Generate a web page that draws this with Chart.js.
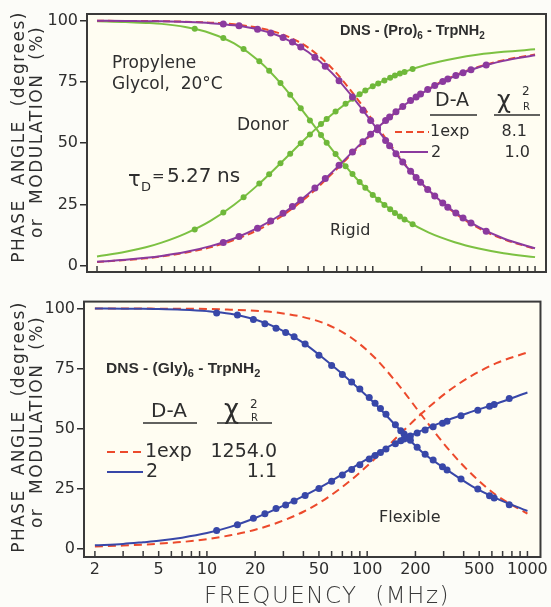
<!DOCTYPE html>
<html>
<head>
<meta charset="utf-8">
<script src="https://cdn.jsdelivr.net/npm/chart.js@4.4.1/dist/chart.umd.min.js"></script>
<style>
  html, body { margin: 0; padding: 0; background: #fcfcf8; }
  #wrap { position: relative; width: 551px; height: 607px; }
  canvas { position: absolute; left: 0; }
  #top { top: 0; }
  #bottom { top: 290px; }
</style>
</head>
<body>
<div id="wrap">
  <canvas id="top" width="551" height="290"></canvas>
  <canvas id="bottom" width="551" height="317"></canvas>
</div>
<script>
// ---- values ----
// axis ticks
const xTickMarks = [2, 3, 4, 5, 6, 7, 8, 9, 10, 20, 30, 40, 50, 60, 70, 80, 90,
  100, 200, 300, 400, 500, 600, 700, 800, 900, 1000];
const xTickLabels = [2, 5, 10, 20, 50, 100, 200, 500, 1000];
const yTickValues = [0, 25, 50, 75, 100];

// frequencies (MHz) where the fitted curves are sampled
const fitFreqs = [2, 3, 4, 5, 7, 10, 14, 20, 28, 40, 56, 80, 110, 160, 220, 320, 450, 640, 1000];

// upper panel: DNS-(Pro)6-TrpNH2, donor alone (green)
const donorFitPhase = [3.8, 5.7, 7.5, 9.4, 13.1, 18.3, 24.9, 33.5, 42.8, 52.9, 61.7, 69.3, 74.7, 79.3, 82.2, 84.6, 86.2, 87.3, 88.3];
const donorFitMod = [99.8, 99.5, 99.1, 98.7, 97.4, 94.9, 90.7, 83.4, 73.3, 60.3, 47.5, 35.3, 26.5, 18.6, 13.6, 9.6, 7.0, 5.1, 3.5];
const donorFreqs = [8, 12, 16, 20, 23, 27, 31, 36, 41, 48, 52, 59, 68, 75, 83, 90, 100, 108, 118, 128, 137, 147, 157, 176];
const donorPhase = [14.8, 21.7, 27.9, 33.5, 37.3, 41.8, 45.7, 50.0, 53.6, 57.8, 59.9, 62.9, 66.1, 68.1, 70.0, 71.5, 73.2, 74.4, 75.6, 76.7, 77.6, 78.4, 79.1, 80.3];
const donorMod = [96.7, 92.9, 88.4, 83.4, 79.6, 74.6, 69.8, 64.3, 59.3, 53.3, 50.2, 45.6, 40.6, 37.4, 34.2, 31.8, 28.9, 26.9, 24.8, 23.0, 21.5, 20.1, 18.9, 16.9];

// upper panel: rigid D-A (purple), 2-component fit and 1exp fit (red dashed)
const rigidFitPhase = [1.6, 2.4, 3.2, 4.0, 5.6, 8.0, 11.1, 15.7, 21.4, 29.3, 38.1, 48.3, 57.0, 66.0, 72.0, 77.4, 81.0, 83.6, 85.9];
const rigidFitMod = [100.0, 99.9, 99.8, 99.8, 99.5, 99.0, 98.1, 96.3, 93.1, 87.2, 78.7, 66.6, 54.5, 40.7, 30.9, 21.8, 15.7, 11.1, 7.1];
const rigidExpPhase = [1.5, 2.3, 3.0, 3.8, 5.3, 7.5, 10.5, 14.9, 20.6, 28.5, 37.5, 47.8, 56.8, 65.9, 72.1, 77.6, 81.2, 83.9, 86.2];
const rigidExpMod = [100.0, 99.9, 99.9, 99.8, 99.6, 99.2, 98.5, 97.0, 94.3, 89.0, 80.6, 68.2, 55.5, 41.0, 30.8, 21.5, 15.3, 10.8, 6.9];
const rigidFreqs = [12, 15, 19.5, 23.5, 28, 32, 36, 44, 51, 62, 75, 87, 97, 107, 120, 127, 139, 153, 171, 185, 197, 218, 241, 270, 290, 325, 360, 403, 500];
const rigidPhase = [9.5, 11.9, 15.3, 18.2, 21.4, 24.2, 26.8, 31.7, 35.6, 41.0, 46.4, 50.6, 53.7, 56.3, 59.3, 60.7, 62.8, 65.0, 67.4, 68.9, 70.1, 71.9, 73.5, 75.2, 76.2, 77.6, 78.8, 80.0, 81.9];
const rigidMod = [98.6, 97.9, 96.5, 95.0, 93.1, 91.3, 89.3, 85.1, 81.4, 75.5, 68.9, 63.4, 59.3, 55.5, 51.1, 49.0, 45.7, 42.3, 38.5, 36.0, 34.1, 31.1, 28.4, 25.6, 23.9, 21.5, 19.5, 17.4, 14.1];

// lower panel: DNS-(Gly)6-TrpNH2, flexible D-A (blue) and 1exp fit (red dashed)
const flexFitPhase = [1.3, 1.9, 2.6, 3.2, 4.5, 6.4, 9.0, 12.7, 16.9, 21.8, 27.0, 33.4, 38.9, 44.9, 49.2, 53.6, 57.0, 60.3, 65.0];
const flexFitMod = [100.0, 99.9, 99.9, 99.8, 99.5, 98.9, 97.8, 95.4, 91.6, 85.7, 78.1, 69.3, 60.8, 49.4, 40.2, 32.4, 26.0, 20.9, 15.6];
const flexExpPhase = [0.8, 1.2, 1.6, 2.0, 2.7, 3.9, 5.5, 7.8, 10.9, 15.3, 21.0, 28.7, 37.0, 47.6, 56.4, 65.5, 72.0, 77.2, 81.7];
const flexExpMod = [100.0, 100.0, 100.0, 99.9, 99.9, 99.8, 99.5, 99.1, 98.2, 96.4, 93.4, 87.7, 79.9, 67.4, 55.3, 41.5, 30.9, 22.2, 14.5];
const flexFreqs = [11.5, 15.5, 19.5, 23, 27, 31, 35, 41, 50, 60, 70, 80, 90, 103, 112, 121, 131, 150, 162, 170, 178, 186, 205, 230, 258, 295, 315, 385, 490, 580, 620, 770];
const flexPhase = [7.5, 9.9, 12.6, 14.5, 16.6, 18.1, 19.8, 22.1, 25.0, 28.0, 30.6, 32.9, 34.9, 37.3, 38.7, 40.0, 41.4, 43.6, 44.9, 45.6, 46.3, 46.9, 48.1, 49.4, 50.7, 52.2, 53.0, 55.3, 57.6, 59.3, 60.0, 62.5];
const flexMod = [98.1, 97.3, 95.4, 93.6, 91.8, 90.0, 88.2, 85.2, 80.5, 76.2, 72.5, 69.4, 66.5, 62.9, 60.5, 58.3, 55.9, 51.6, 49.0, 47.7, 46.3, 45.1, 42.2, 39.3, 36.9, 34.1, 32.7, 28.9, 24.8, 22.0, 21.0, 18.2];

// ---- styling ----
const PAGE_BG = "#fcfcf8";
const PLOT_BG = "#fffdf2";
const INK = "#2e2e2e";
const FONT = "'DejaVu Sans', sans-serif";
const GREEN = "#7cc142";
const PURPLE = "#8b3a9e";
const RED = "#ec4a2c";
const BLUE = "#3847a8";

Chart.defaults.font.family = FONT;
Chart.defaults.color = INK;

const pts = (xs, ys) => xs.map((x, i) => ({ x: x, y: ys[i] }));

function curve(xs, ys, color, dash) {
	return {
		data: pts(xs, ys),
		showLine: true,
		borderColor: color,
		borderWidth: 2,
		borderDash: dash || [],
		pointRadius: 0,
		pointHoverRadius: 0,
		cubicInterpolationMode: "monotone",
		fill: false,
	};
}

function dots(xs, ys, color, r) {
	return {
		data: pts(xs, ys),
		showLine: false,
		pointRadius: r,
		pointBackgroundColor: color,
		pointBorderColor: color,
		pointBorderWidth: 0,
	};
}

// simple text helper (canvas coords)
function txt(ctx, s, x, y, size, o) {
	o = o || {};
	ctx.save();
	ctx.font = (o.weight || "normal") + " " + size + "px " + (o.family || FONT);
	ctx.fillStyle = o.color || INK;
	ctx.textAlign = o.align || "left";
	ctx.textBaseline = o.baseline || "middle";
	if (o.spacing) ctx.letterSpacing = o.spacing + "px";
	if (o.rotate) {
		ctx.translate(x, y);
		ctx.rotate(o.rotate);
		ctx.fillText(s, 0, 0);
	} else {
		ctx.fillText(s, x, y);
	}
	ctx.restore();
}

// text made of pieces with subscripts, drawn left to right
function flow(ctx, x, y, segs, size) {
	ctx.save();
	ctx.fillStyle = INK;
	ctx.textBaseline = "alphabetic";
	segs.forEach(([s, sub]) => {
		const sz = sub ? Math.round(size * 0.68) : size;
		ctx.font = "bold " + sz + "px 'Liberation Sans', Arial, sans-serif";
		ctx.fillText(s, x, y + (sub ? 4 : 0));
		x += ctx.measureText(s).width;
	});
	ctx.restore();
}

function rule(ctx, x1, x2, y, color, width, dash) {
	ctx.save();
	ctx.strokeStyle = color;
	ctx.lineWidth = width;
	ctx.setLineDash(dash || []);
	ctx.beginPath();
	ctx.moveTo(x1, y);
	ctx.lineTo(x2, y);
	ctx.stroke();
	ctx.restore();
}

function yTitle(ctx) {
	txt(ctx, "PHASE  ANGLE  (degrees)", 19.5, 137, 17, { align: "center", rotate: -Math.PI / 2, spacing: 1.5 });
	txt(ctx, "or  MODULATION  (%)", 37.5, 132, 17, { align: "center", rotate: -Math.PI / 2, spacing: 1.5 });
}

function panelPlugin(notes) {
	return {
		id: "panel",
		beforeDraw(chart) {
			const { ctx, chartArea: a, width, height } = chart;
			ctx.save();
			ctx.fillStyle = PAGE_BG;
			ctx.fillRect(0, 0, width, height);
			ctx.fillStyle = PLOT_BG;
			ctx.fillRect(a.left, a.top, a.right - a.left, a.bottom - a.top);
			ctx.restore();
		},
		afterDraw(chart) {
			const { ctx, chartArea: a, scales } = chart;
			ctx.save();
			ctx.strokeStyle = "#3a3a3a";
			ctx.lineWidth = 2;
			ctx.strokeRect(a.left, a.top, a.right - a.left, a.bottom - a.top);
			// inward ticks on the frequency axis
			ctx.lineWidth = 1.5;
			ctx.beginPath();
			xTickMarks.forEach((v) => {
				const px = scales.x.getPixelForValue(v);
				ctx.moveTo(px, a.bottom);
				ctx.lineTo(px, a.bottom - 6);
			});
			ctx.stroke();
			ctx.restore();
			yTitle(ctx);
			notes(ctx);
		},
	};
}

function panelOptions(p) {
	return {
		responsive: false,
		animation: false,
		events: [],
		layout: { padding: { top: p.top, right: p.right, left: 0, bottom: 0 } },
		plugins: { legend: { display: false }, tooltip: { enabled: false } },
		scales: {
			x: {
				type: "logarithmic",
				min: p.xMin,
				max: p.xMax,
				afterBuildTicks: (s) => {
					s.ticks = xTickMarks.map((v) => ({ value: v }));
				},
				afterFit: (s) => {
					s.height = p.xHeight;
				},
				grid: { display: false, drawTicks: false },
				border: { display: false },
				ticks: {
					display: p.xLabels,
					autoSkip: false,
					maxRotation: 0,
					padding: 3,
					color: INK,
					font: { size: 16 },
					callback: (v) => (xTickLabels.includes(v) ? String(v) : ""),
				},
			},
			y: {
				min: p.yMin,
				max: p.yMax,
				afterBuildTicks: (s) => {
					s.ticks = yTickValues.map((v) => ({ value: v }));
				},
				afterFit: (s) => {
					s.width = p.left;
				},
				grid: { drawOnChartArea: false, drawTicks: true, tickLength: 7, color: INK, lineWidth: 1.5 },
				border: { display: false },
				ticks: { padding: 2, color: INK, font: { size: 16 } },
			},
		},
	};
}

// ---- upper panel ----
new Chart(document.getElementById("top"), {
	type: "scatter",
	data: {
		datasets: [
			dots(rigidFreqs, rigidPhase, PURPLE, 3.5),
			dots(rigidFreqs, rigidMod, PURPLE, 3.5),
			dots(donorFreqs, donorPhase, "#6fb83a", 3),
			dots(donorFreqs, donorMod, "#6fb83a", 3),
			curve(fitFreqs, rigidFitPhase, PURPLE),
			curve(fitFreqs, rigidFitMod, PURPLE),
			curve(fitFreqs, rigidExpPhase, RED, [7, 4]),
			curve(fitFreqs, rigidExpMod, RED, [7, 4]),
			curve(fitFreqs, donorFitPhase, GREEN),
			curve(fitFreqs, donorFitMod, GREEN),
		],
	},
	options: panelOptions({ top: 14, right: 5, left: 87, xHeight: 18, xLabels: false,
		xMin: 1.735, xMax: 1168, yMin: -2.57, yMax: 102.73 }),
	plugins: [panelPlugin((ctx) => {
		txt(ctx, "Propylene", 112, 64, 17);
		txt(ctx, "Glycol,  20°C", 112, 85, 17);
		txt(ctx, "Donor", 237, 126, 17);
		txt(ctx, "Rigid", 330, 231, 16);
		txt(ctx, "τ", 128, 186, 21, { baseline: "alphabetic" });
		txt(ctx, "D", 141, 191, 13, { baseline: "alphabetic" });
		txt(ctx, "=", 152, 181, 15, { baseline: "alphabetic" });
		txt(ctx, "5.27", 167, 182, 20, { baseline: "alphabetic" });
		txt(ctx, "ns", 217, 182, 20, { baseline: "alphabetic" });
		flow(ctx, 340, 35, [["DNS - (Pro)"], ["6", true], [" - TrpNH"], ["2", true]], 14.5);
		// fit table
		txt(ctx, "D-A", 435, 101, 19);
		txt(ctx, "χ", 497, 108, 24, { baseline: "alphabetic" });
		txt(ctx, "2", 522, 92, 12);
		txt(ctx, "R", 523, 107, 10);
		rule(ctx, 430, 477, 115, INK, 1.5);
		rule(ctx, 494, 540, 115, INK, 1.5);
		rule(ctx, 395, 429, 132, RED, 2, [7, 4]);
		txt(ctx, "1exp", 430, 132, 16);
		txt(ctx, "8.1", 527, 132, 16, { align: "right" });
		rule(ctx, 400, 428, 152, PURPLE, 2);
		txt(ctx, "2", 431, 153, 16);
		txt(ctx, "1.0", 530, 153, 16, { align: "right" });
	})],
});

// ---- lower panel ----
new Chart(document.getElementById("bottom"), {
	type: "scatter",
	data: {
		datasets: [
			dots(flexFreqs, flexPhase, BLUE, 3.5),
			dots(flexFreqs, flexMod, BLUE, 3.5),
			curve(fitFreqs, flexFitPhase, BLUE),
			curve(fitFreqs, flexFitMod, BLUE),
			curve(fitFreqs, flexExpPhase, RED, [8, 5]),
			curve(fitFreqs, flexExpMod, RED, [8, 5]),
		],
	},
	options: panelOptions({ top: 7, right: 7, left: 84, xHeight: 50, xLabels: true,
		xMin: 1.71, xMax: 1206, yMin: -3.56, yMax: 102.87 }),
	plugins: [panelPlugin((ctx) => {
		flow(ctx, 106, 83, [["DNS - (Gly)"], ["6", true], [" - TrpNH"], ["2", true]], 15.5);
		txt(ctx, "D-A", 151, 122, 20);
		txt(ctx, "χ", 224, 128, 26, { baseline: "alphabetic" });
		txt(ctx, "2", 250, 115, 12);
		txt(ctx, "R", 251, 128, 10);
		rule(ctx, 143, 197, 133, INK, 1.5);
		rule(ctx, 217, 272, 133, INK, 1.5);
		rule(ctx, 107, 143, 162, RED, 2, [8, 5]);
		txt(ctx, "1exp", 145, 162, 19);
		txt(ctx, "1254.0", 277, 162, 19, { align: "right" });
		rule(ctx, 107, 143, 182, BLUE, 2);
		txt(ctx, "2", 146, 182, 19);
		txt(ctx, "1.1", 277, 182, 19, { align: "right" });
		txt(ctx, "Flexible", 379, 228, 16);
		txt(ctx, "FREQUENCY  (MHz)", 327, 307, 23, { align: "center", spacing: 1.5, weight: "200", color: "#3a3a3a" });
	})],
});
</script>
</body>
</html>
